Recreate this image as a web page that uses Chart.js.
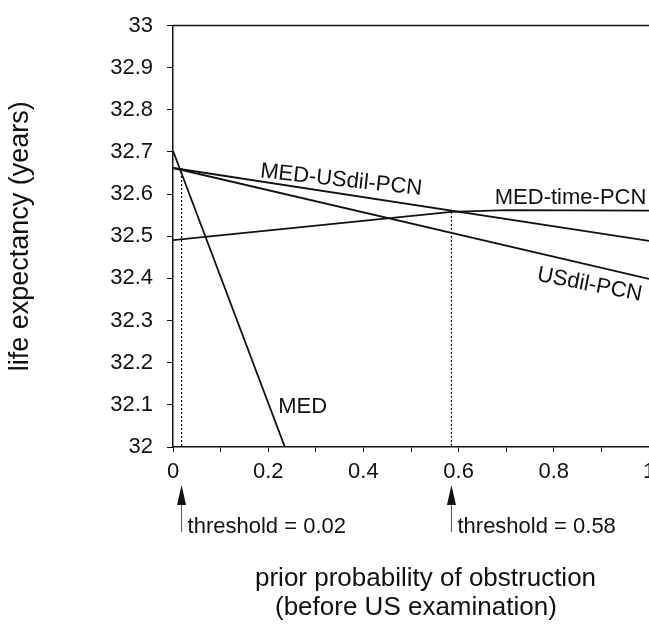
<!DOCTYPE html>
<html>
<head>
<meta charset="utf-8">
<script src="https://cdn.jsdelivr.net/npm/chart.js@4.4.0/dist/chart.umd.min.js"></script>
<style>
  html, body { margin: 0; padding: 0; background: #fff; overflow: hidden; }
</style>
</head>
<body>
<canvas id="canvas" width="669" height="626"></canvas>
<script>
// values
var xMED = [0, 0.235];
var yMED = [32.703, 32];
var xUSdilPCN = [0, 1];
var yUSdilPCN = [32.662, 32.399];
var xMedUSdilPCN = [0, 1];
var yMedUSdilPCN = [32.662, 32.489];
var xMedTimePCN = [0, 0.585, 0.7, 1];
var yMedTimePCN = [32.491, 32.558, 32.562, 32.561];

var thresholdX = [0.018, 0.585];
var thresholdY = [32.662, 32.558];
var thresholdLabels = ['threshold = 0.02', 'threshold = 0.58'];

var xTickLabels = ['0', '', '0.2', '', '0.4', '', '0.6', '', '0.8', '', '1'];
var yTickLabels = ['32', '32.1', '32.2', '32.3', '32.4', '32.5', '32.6', '32.7', '32.8', '32.9', '33'];

var yTitle = 'life expectancy (years)';
var xTitle = ['prior probability of obstruction', '(before US examination)'];

var FONT = '"Liberation Sans", Arial, Helvetica, sans-serif';
var INK = '#111';

function pts(xs, ys) {
  return xs.map(function (x, i) { return { x: x, y: ys[i] }; });
}

function curve(name, xs, ys) {
  return {
    label: name,
    data: pts(xs, ys),
    showLine: true,
    borderColor: INK,
    borderWidth: 1.8,
    pointRadius: 0,
    fill: false
  };
}

var datasets = [
  curve('MED', xMED, yMED),
  curve('USdil-PCN', xUSdilPCN, yUSdilPCN),
  curve('MED-USdil-PCN', xMedUSdilPCN, yMedUSdilPCN),
  curve('MED-time-PCN', xMedTimePCN, yMedTimePCN)
];
thresholdX.forEach(function (t, i) {
  datasets.push({
    label: thresholdLabels[i],
    data: [{ x: t, y: thresholdY[i] }, { x: t, y: 32 }],
    showLine: true,
    borderColor: INK,
    borderWidth: 1.2,
    borderDash: [2, 2],
    pointRadius: 0,
    fill: false
  });
});

// where the curve names sit (data units, left/baseline) and their tilt
var curveLabels = [
  { text: 'MED', x: 0.221, y: 32.081, angle: 0 },
  { text: 'USdil-PCN', x: 0.763, y: 32.395, angle: 11 },
  { text: 'MED-USdil-PCN', x: 0.182, y: 32.640, angle: 6.3 },
  { text: 'MED-time-PCN', x: 0.676, y: 32.577, angle: 0 }
];

var annotations = {
  id: 'annotations',
  afterDraw: function (chart) {
    var ctx = chart.ctx, xs = chart.scales.x, ys = chart.scales.y, area = chart.chartArea;
    ctx.save();

    // top frame line
    ctx.strokeStyle = INK;
    ctx.lineWidth = 1.5;
    ctx.beginPath();
    ctx.moveTo(area.left, area.top);
    ctx.lineTo(area.right + 30, area.top);
    ctx.stroke();

    // curve names
    ctx.fillStyle = INK;
    ctx.font = '22px ' + FONT;
    ctx.textAlign = 'left';
    ctx.textBaseline = 'alphabetic';
    curveLabels.forEach(function (l) {
      ctx.save();
      ctx.translate(xs.getPixelForValue(l.x), ys.getPixelForValue(l.y));
      ctx.rotate(l.angle * Math.PI / 180);
      ctx.fillText(l.text, 0, 0);
      ctx.restore();
    });

    // threshold arrows under the axis
    thresholdX.forEach(function (t, i) {
      var px = xs.getPixelForValue(t);
      var tip = area.bottom + 38, base = area.bottom + 58, end = area.bottom + 85;
      ctx.fillStyle = INK;
      ctx.beginPath();
      ctx.moveTo(px, tip);
      ctx.lineTo(px - 4.5, base);
      ctx.lineTo(px + 4.5, base);
      ctx.closePath();
      ctx.fill();
      ctx.strokeStyle = '#555';
      ctx.lineWidth = 1;
      ctx.beginPath();
      ctx.moveTo(px, base);
      ctx.lineTo(px, end);
      ctx.stroke();
      ctx.fillStyle = INK;
      ctx.font = '22px ' + FONT;
      ctx.fillText(thresholdLabels[i], px + 6, area.bottom + 86);
    });

    // x axis title, two lines
    ctx.font = '26px ' + FONT;
    ctx.fillText(xTitle[0], area.left + 82, area.bottom + 139);
    ctx.fillText(xTitle[1], area.left + 102, area.bottom + 168);
    ctx.restore();
  }
};

var config = {
  type: 'scatter',
  data: { datasets: datasets },
  options: {
    responsive: false,
    animation: false,
    layout: { padding: { top: 0, right: 20, bottom: 0, left: 0 } },
    plugins: {
      legend: { display: false },
      tooltip: { enabled: false }
    },
    scales: {
      x: {
        type: 'linear',
        min: 0,
        max: 1,
        ticks: {
          stepSize: 0.1,
          autoSkip: false,
          maxRotation: 0,
          padding: 8,
          color: INK,
          font: { size: 22, family: FONT, lineHeight: 1.05 },
          callback: function (v, i) { return xTickLabels[i]; }
        },
        grid: { drawOnChartArea: false, tickLength: 5, color: INK, lineWidth: 1 },
        border: { color: INK, width: 1.5 },
        afterFit: function (s) { s.height = 179; }
      },
      y: {
        min: 32,
        max: 33,
        ticks: {
          stepSize: 0.1,
          padding: 14,
          color: INK,
          font: { size: 22, family: FONT, lineHeight: 1.05 },
          callback: function (v, i) { return yTickLabels[i]; }
        },
        grid: { drawOnChartArea: false, tickLength: 6, color: INK, lineWidth: 1 },
        border: { color: INK, width: 1.5 },
        title: {
          display: true,
          text: yTitle,
          color: INK,
          font: { size: 27, family: FONT },
          padding: { top: 4, bottom: 0 }
        },
        afterFit: function (s) { s.width = 173; }
      }
    }
  },
  plugins: [annotations]
};

window.onload = function () {
  var ctx = document.getElementById('canvas').getContext('2d');
  window.myChart = new Chart(ctx, config);
};
</script>
</body>
</html>
